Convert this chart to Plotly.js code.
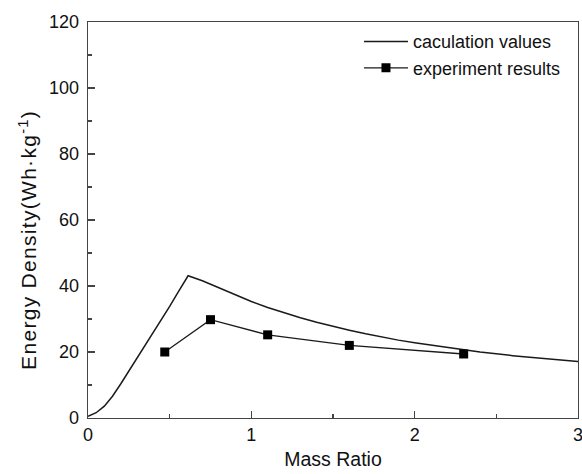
<!DOCTYPE html>
<html>
<head>
<meta charset="utf-8">
<script src="https://cdn.plot.ly/plotly-3.0.1.min.js"></script>
<style>
html,body{margin:0;padding:0;background:#fff;}
#chart{width:582px;height:474px;}
#chart .annotation-text{letter-spacing:1.3px;}
</style>
</head>
<body>
<div id="chart"></div>
<script>
// Calculation curve
var calcX = [0, 0.05, 0.1, 0.15, 0.2, 0.25, 0.3, 0.35, 0.4, 0.45, 0.5, 0.55, 0.613,
             0.7, 0.8, 0.9, 1.0, 1.1, 1.2, 1.3, 1.4, 1.5, 1.6, 1.7, 1.8, 1.9, 2.0, 2.2, 2.4, 2.6, 2.8, 3.0];
var calcY = [0.5, 1.6, 3.6, 6.6, 10.3, 14.2, 18.0, 21.8, 25.8, 29.8, 33.8, 38.0, 43.1,
             41.6, 39.5, 37.3, 35.3, 33.5, 31.9, 30.4, 29.0, 27.7, 26.6, 25.5, 24.5, 23.6, 22.8, 21.3, 20.0, 18.9, 17.9, 17.1];
// Experiment results
var expX = [0.47, 0.75, 1.10, 1.60, 2.30];
var expY = [20.0, 29.8, 25.2, 22.0, 19.4];

var names = ['caculation values', 'experiment results'];
var xTicks = [0, 1, 2, 3];
var yTicks = [0, 20, 40, 60, 80, 100, 120];
var xTitle = 'Mass Ratio';
var yTitle = 'Energy Density(Wh·kg<sup>-1</sup>)';

var fontFam = 'Liberation Sans, Arial, sans-serif';
var traces = [
  {x: calcX, y: calcY, mode: 'lines', name: names[0], line: {color: '#1a1a1a', width: 1.5}},
  {x: expX, y: expY, mode: 'lines+markers', name: names[1], line: {color: '#1a1a1a', width: 1.3},
   marker: {symbol: 'square', size: 9, color: '#000'}}
];
var axisCommon = {
  showgrid: false, zeroline: false, showline: true, mirror: true,
  linecolor: '#444', linewidth: 1.3, ticks: 'inside', ticklen: 7, tickwidth: 1.3, tickcolor: '#444',
  tickfont: {family: fontFam, size: 18, color: '#111'}, ticklabeloverflow: 'allow'
};
var layout = {
  width: 582, height: 474,
  margin: {l: 88, r: 4, t: 22, b: 56},
  paper_bgcolor: '#fff', plot_bgcolor: '#fff',
  font: {family: fontFam, color: '#111'},
  xaxis: Object.assign({}, axisCommon, {
    range: [0, 3], tickvals: xTicks, ticktext: xTicks.map(String),
    minor: {dtick: 0.5, tick0: 0, ticks: 'inside', ticklen: 4, tickwidth: 1.3, tickcolor: '#444'},
    title: {text: xTitle, font: {family: fontFam, size: 19.5, color: '#111'}, standoff: 8}
  }),
  yaxis: Object.assign({}, axisCommon, {
    range: [0, 120], tickvals: yTicks, ticktext: yTicks.map(String),
    minor: {dtick: 10, tick0: 0, ticks: 'inside', ticklen: 4, tickwidth: 1.3, tickcolor: '#444'},
    ticklabelstandoff: 4
  }),
  annotations: [{
    text: yTitle, xref: 'paper', yref: 'paper', x: -0.123, y: 0.449,
    xanchor: 'center', yanchor: 'middle', textangle: -90, showarrow: false,
    font: {family: fontFam, size: 21, color: '#111'}
  }],
  showlegend: true,
  legend: {
    x: 0.553, y: 0.997, xanchor: 'left', yanchor: 'top',
    bgcolor: 'rgba(0,0,0,0)', borderwidth: 0,
    font: {family: fontFam, size: 18, color: '#111'},
    itemwidth: 44, tracegroupgap: 0
  }
};
Plotly.newPlot('chart', traces, layout, {displayModeBar: false, staticPlot: true});
</script>
</body>
</html>
